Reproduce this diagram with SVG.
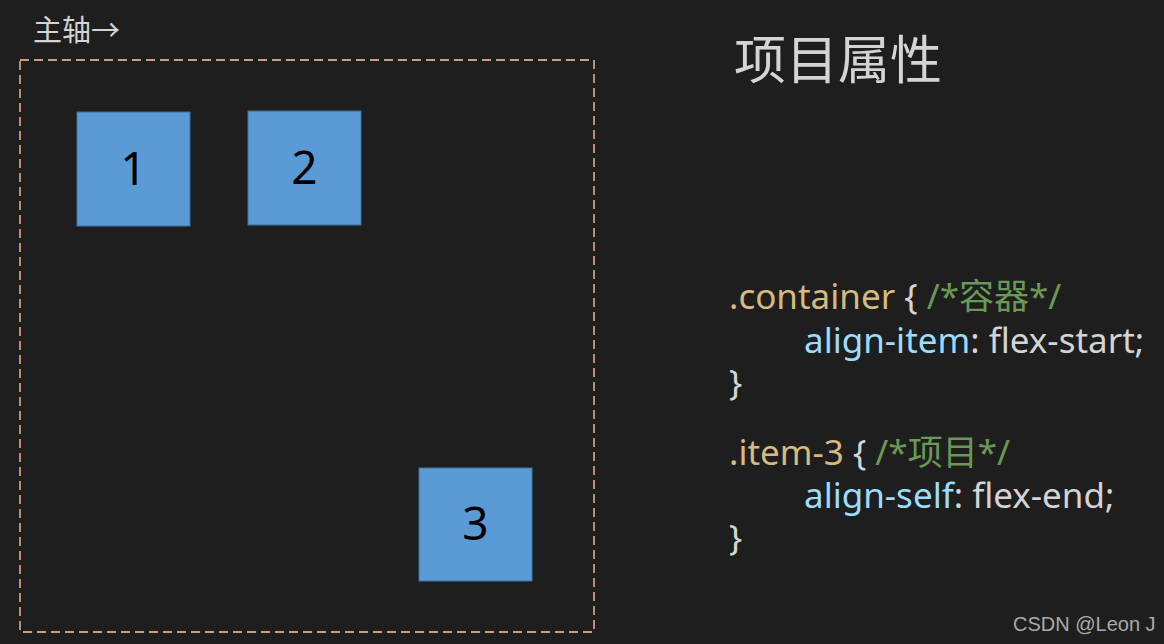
<svg xmlns="http://www.w3.org/2000/svg" width="1164" height="644" viewBox="0 0 1164 644">
<style>
.t{font-family:"Noto Sans","Noto Sans CJK SC",sans-serif}
.box{fill:#5b9bd5;stroke:#41719c;stroke-width:1}
.num{font-family:"Noto Sans","Noto Sans CJK SC",sans-serif;font-size:46px;fill:#000;text-anchor:middle}
.code{font-family:"Noto Sans","Noto Sans CJK SC",sans-serif;font-size:35px}
.sel{fill:#d7ba7d}.prop{fill:#9cdcfe}.val{fill:#d4d4d4}.cm{fill:#6a9955}
</style>
<rect width="1164" height="644" fill="#1e1e1e"/>
<text class="t" x="33" y="41" font-size="29" fill="#d4d4d4">主轴→</text>
<g id="container">
<rect x="20" y="60" width="574" height="572" fill="none" stroke="#d09c7c" stroke-width="1.8" stroke-dasharray="9 5"/>
</g>
<g id="item1"><rect class="box" x="77" y="112" width="113" height="114"/><text class="num" x="133.5" y="185">1</text></g>
<g id="item2"><rect class="box" x="248" y="111" width="113" height="114"/><text class="num" x="304.5" y="184">2</text></g>
<g id="item3"><rect class="box" x="419" y="468" width="113" height="113"/><text class="num" x="475.5" y="540">3</text></g>
<g id="connectors"></g>
<text class="t" x="734" y="79" font-size="52" fill="#d4d4d4">项目属性</text>
<g id="code">
<text class="code" x="729" y="309"><tspan class="sel">.container</tspan><tspan class="val"> { </tspan><tspan class="cm">/*容器*/</tspan></text>
<text class="code" x="804" y="353"><tspan class="prop">align-item</tspan><tspan class="val">: flex-start;</tspan></text>
<text class="code val" x="729" y="395">}</text>
<text class="code" x="729" y="465"><tspan class="sel">.item-3</tspan><tspan class="val"> { </tspan><tspan class="cm">/*项目*/</tspan></text>
<text class="code" x="804" y="508"><tspan class="prop">align-self</tspan><tspan class="val">: flex-end;</tspan></text>
<text class="code val" x="729" y="550">}</text>
</g>
<text x="1013" y="631" font-family="Liberation Sans, sans-serif" font-size="20" fill="#aaaaaa">CSDN @Leon J</text>
</svg>
